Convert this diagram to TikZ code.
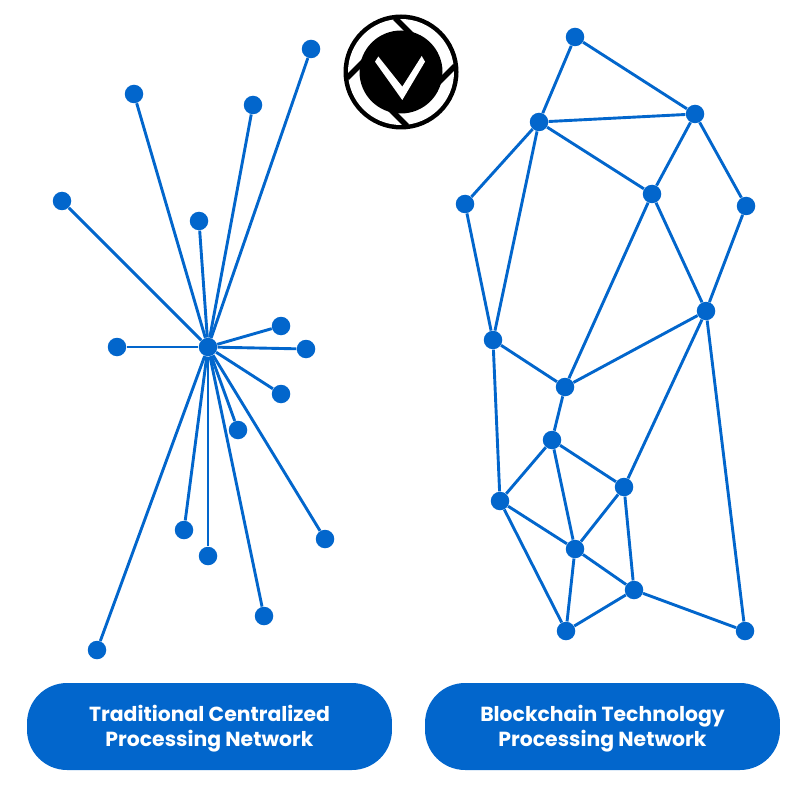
\documentclass[tikz,border=0pt]{standalone}
\usepackage{fontspec}
\setmainfont{Poppins}
\usetikzlibrary{positioning}
\definecolor{netblue}{RGB}{2,102,204}
\tikzset{
  dot/.style={circle,fill=netblue,minimum size=#1*0.02cm,inner sep=0pt},
  dot/.default=18.5,
  link/.style={draw=netblue,line width=1.65pt},
  pill/.style={fill=netblue,text=white,rounded corners=0.8cm,align=center,
    font=\fontsize{11.6}{14.2}\selectfont\bfseries,minimum height=1.74cm},
  % pictogram
  pics/shutter/.style={code={
    \fill[black] (0,0) circle (57.5);
    \fill[white] (0,0) circle (53);
    \fill[black] (0,0) circle (41.5);
    \foreach \a in {0,90,180,270}
      \draw[black,line width=3.2pt,rotate=\a] (-6,-54) -- (12,-36);
    \fill[white] (-22.7,-15.5) -- (1.3,14.7) -- (20.7,-16) -- (24,-10.3) -- (1.3,28) -- (-26,-10.3) -- cycle;
  }},
}
\begin{document}
\begin{tikzpicture}[x=0.02cm,y=-0.02cm]
  \useasboundingbox (0,0) rectangle (800,800);
  \pic at (401,72) {shutter};
  % centralized side
  \node[dot] (hub) at (208,347) {};
  \foreach \name/\x/\y in {a/311/49,b/134/94,c/253/105,d/62/201,e/199/221,f/281/326,g/306/349,
    h/117/347,i/281/394,j/238/430,k/325/539,l/184/530,m/208/556,o/264/616,p/97/650}{
    \node[dot] (\name) at (\x,\y) {};
    \draw[link] (hub) -- (\name);
  }
  % blockchain side
  \foreach \name/\x/\y in {n1/575/37,n2/695/114,n3/539/122,n4/652/194,n5/465/204,n6/746/206,
    n7/706/311,n8/493/340,n9/565/387,n10/552/440,n11/624/487,n12/500/501,n13/575/549,
    n14/634/590,n15/566/631,n16/745/631}
    \node[dot] (\name) at (\x,\y) {};
  \foreach \s/\t in {n1/n2,n1/n3,n2/n3,n2/n4,n2/n6,n3/n4,n3/n5,n3/n8,n4/n7,n4/n9,n5/n8,n6/n7,
    n7/n9,n7/n11,n7/n16,n8/n9,n8/n12,n9/n10,n10/n11,n10/n12,n10/n13,n11/n13,n11/n14,n12/n13,
    n12/n15,n13/n14,n13/n15,n14/n15,n14/n16}
    \draw[link] (\s) -- (\t);
  % captions
  \node[pill,minimum width=7.3cm] (left caption) at (209.5,726.5) {\rule{0pt}{12.2pt}Traditional Centralized\\Processing Network};
  \node[pill,minimum width=7.1cm] (right caption) at (602.5,726.5) {\rule{0pt}{12.2pt}Blockchain Technology\\Processing Network};
\end{tikzpicture}
\end{document}
